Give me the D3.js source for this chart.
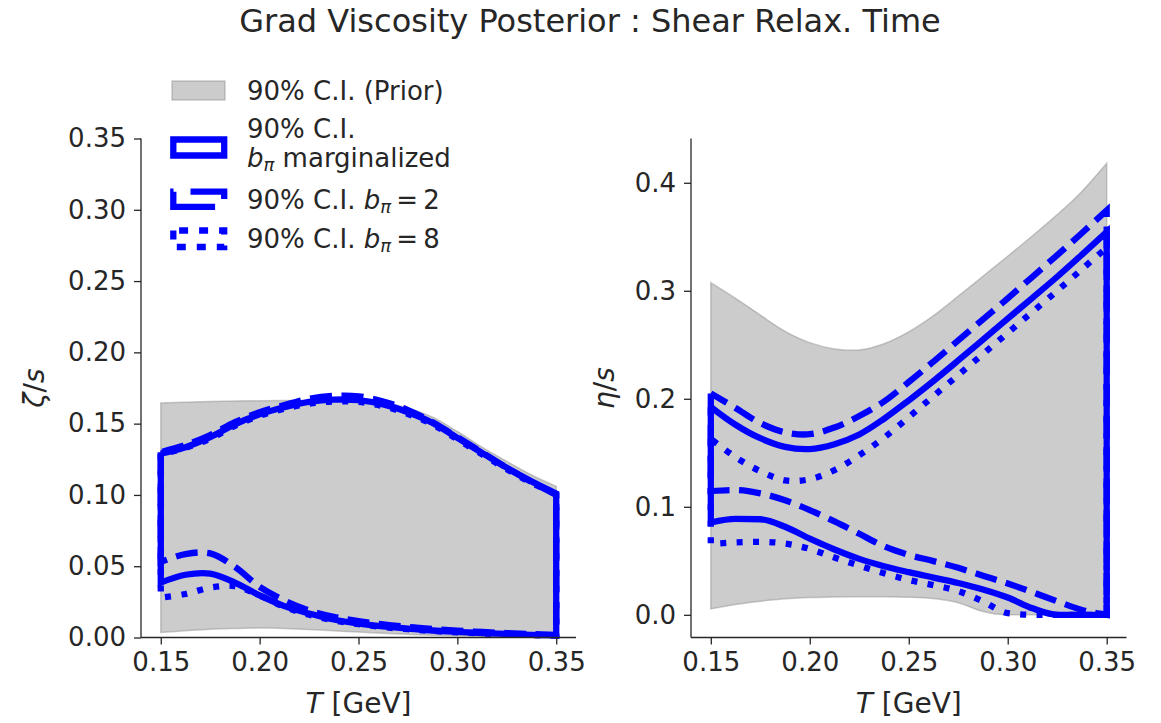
<!DOCTYPE html>
<html>
<head>
<meta charset="utf-8">
<script src="https://cdn.jsdelivr.net/npm/d3@7"></script>
<style>
  html, body { margin: 0; padding: 0; background: #ffffff; }
  svg { display: block; }
  text { font-family: "DejaVu Sans", sans-serif; fill: #262626; }
</style>
</head>
<body>
<svg id="chart" width="1161" height="723"></svg>
<script>
// Temperature grid (GeV)
const T = [0.15, 0.1625, 0.175, 0.1875, 0.2, 0.2125, 0.225, 0.2375, 0.25,
           0.2625, 0.275, 0.2875, 0.3, 0.3125, 0.325, 0.3375, 0.35];

// Bulk viscosity zeta/s — 90% credible intervals
const zetaPriorLow  = [0.0035, 0.0047, 0.0058, 0.0063, 0.0066, 0.0063, 0.0056, 0.0047, 0.0038,
                       0.0030, 0.0022, 0.0016, 0.0012, 0.0009, 0.0007, 0.0005, 0.0004];
const zetaPriorHigh = [0.1645, 0.1650, 0.1655, 0.1658, 0.1660, 0.1662, 0.1663, 0.1662, 0.1658,
                       0.1645, 0.1610, 0.1545, 0.1445, 0.1335, 0.1235, 0.1140, 0.1060];
const zetaMargLow   = [0.0385, 0.0440, 0.0448, 0.0385, 0.0295, 0.0220, 0.0168, 0.0126, 0.0098,
                       0.0078, 0.0062, 0.0049, 0.0039, 0.0031, 0.0025, 0.0019, 0.0015];
const zetaMargHigh  = [0.1290, 0.1335, 0.1405, 0.1495, 0.1565, 0.1615, 0.1652, 0.1668, 0.1665,
                       0.1635, 0.1580, 0.1505, 0.1400, 0.1295, 0.1190, 0.1095, 0.1010];
const zetaB2Low     = [0.0530, 0.0585, 0.0590, 0.0495, 0.0355, 0.0260, 0.0190, 0.0145, 0.0115,
                       0.0092, 0.0074, 0.0060, 0.0048, 0.0039, 0.0031, 0.0024, 0.0018];
const zetaB2High    = [0.1300, 0.1350, 0.1420, 0.1510, 0.1580, 0.1630, 0.1675, 0.1695, 0.1692,
                       0.1655, 0.1595, 0.1510, 0.1405, 0.1298, 0.1190, 0.1090, 0.1000];
const zetaB8Low     = [0.0280, 0.0305, 0.0350, 0.0360, 0.0295, 0.0215, 0.0160, 0.0120, 0.0093,
                       0.0073, 0.0058, 0.0046, 0.0036, 0.0028, 0.0022, 0.0017, 0.0013];
const zetaB8High    = [0.1285, 0.1330, 0.1395, 0.1485, 0.1555, 0.1605, 0.1640, 0.1655, 0.1652,
                       0.1622, 0.1568, 0.1495, 0.1390, 0.1285, 0.1180, 0.1085, 0.1005];

// Shear viscosity eta/s — 90% credible intervals
const etaPriorLow   = [0.0055, 0.0095, 0.0125, 0.0148, 0.0160, 0.0166, 0.0168, 0.0167, 0.0163,
                       0.0150, 0.0112, 0.0030, 0.0000, 0.0000, 0.0000, 0.0000, 0.0000];
const etaPriorHigh  = [0.3075, 0.2930, 0.2775, 0.2625, 0.2520, 0.2462, 0.2452, 0.2510, 0.2620,
                       0.2770, 0.2950, 0.3135, 0.3320, 0.3510, 0.3705, 0.3920, 0.4180];
const etaMargLow    = [0.0855, 0.0888, 0.0885, 0.0815, 0.0705, 0.0605, 0.0518, 0.0450, 0.0395,
                       0.0345, 0.0295, 0.0235, 0.0160, 0.0060, 0.0000, 0.0000, 0.0000];
const etaMargHigh   = [0.1925, 0.1760, 0.1635, 0.1555, 0.1535, 0.1580, 0.1670, 0.1815, 0.1985,
                       0.2165, 0.2355, 0.2548, 0.2742, 0.2935, 0.3130, 0.3335, 0.3545];
const etaB2Low      = [0.1145, 0.1155, 0.1125, 0.1060, 0.0970, 0.0865, 0.0750, 0.0635, 0.0555,
                       0.0497, 0.0435, 0.0362, 0.0290, 0.0210, 0.0125, 0.0045, 0.0000];
const etaB2High     = [0.2050, 0.1915, 0.1775, 0.1690, 0.1672, 0.1735, 0.1840, 0.1975, 0.2155,
                       0.2345, 0.2540, 0.2735, 0.2930, 0.3130, 0.3330, 0.3535, 0.3745];
const etaB8Low      = [0.0655, 0.0670, 0.0676, 0.0660, 0.0610, 0.0530, 0.0455, 0.0385, 0.0322,
                       0.0275, 0.0220, 0.0125, 0.0015, 0.0000, 0.0000, 0.0000, 0.0000];
const etaB8High     = [0.1630, 0.1460, 0.1330, 0.1245, 0.1255, 0.1340, 0.1478, 0.1640, 0.1830,
                       0.2025, 0.2220, 0.2415, 0.2610, 0.2805, 0.3000, 0.3200, 0.3400];

// Tick values
const xTicks = [0.15, 0.20, 0.25, 0.30, 0.35];
const zetaTicks = [0.00, 0.05, 0.10, 0.15, 0.20, 0.25, 0.30, 0.35];
const etaTicks = [0.0, 0.1, 0.2, 0.3, 0.4];

const BLUE = "#0000ff";
const LW = 6.3;
const DASHED = "22 9.5";
const DOTTED = "6 10.4";
const INK = "#262626";
const SMOOTH = d3.curveCatmullRom.alpha(0.5);
// bounds that run flat along zero need an interpolation without overshoot
const NO_OVERSHOOT = d3.curveMonotoneX;

const svg = d3.select("#chart");

svg.append("text")
  .attr("x", 590).attr("y", 32)
  .attr("text-anchor", "middle")
  .attr("font-size", 32)
  .text("Grad Viscosity Posterior : Shear Relax. Time");

function band(lo, hi) {
  return T.map((t, i) => ({ t, lo: lo[i], hi: hi[i] }));
}

// Path pieces for the lower bound (left to right) and upper bound (right to left)
function bounds(data, x, y, lowCurve) {
  const lineLo = d3.line().x(d => x(d.t)).y(d => y(d.v)).curve(lowCurve);
  const lineHi = d3.line().x(d => x(d.t)).y(d => y(d.v)).curve(SMOOTH);
  const lower = lineLo(data.map(d => ({ t: d.t, v: d.lo })));
  const upper = lineHi(data.slice().reverse().map(d => ({ t: d.t, v: d.hi })));
  return { lower, upper };
}

// Outline of a credible band: down the left edge, along the lower
// bound, up the right edge and back along the upper bound (left open).
function outline(data, x, y, lowCurve) {
  const { lower, upper } = bounds(data, x, y, lowCurve);
  const first = data[0];
  return `M${x(first.t)},${y(first.hi)}` + lower.replace(/^M/, "L") + upper.replace(/^M/, "L");
}

function panel(opts) {
  const { left, right, top, bottom, yDomain, yTicks, yFmt, yLabel, bands, lowCurve } = opts;
  const x = d3.scaleLinear().domain([0.14, 0.36]).range([left, right]);
  const y = d3.scaleLinear().domain(yDomain).range([bottom, top]);
  const g = svg.append("g");

  // prior band
  const pb = bounds(bands.prior, x, y, lowCurve);
  g.append("path").attr("d", pb.lower + pb.upper.replace(/^M/, "L") + "Z")
    .attr("fill", "#808080").attr("fill-opacity", 0.4)
    .attr("stroke", "#808080").attr("stroke-opacity", 0.4).attr("stroke-width", 1.5);

  // posterior bands
  [["marg", null], ["b2", DASHED], ["b8", DOTTED]].forEach(([k, dash]) => {
    g.append("path").attr("d", outline(bands[k], x, y, lowCurve))
      .attr("fill", "none").attr("stroke", BLUE).attr("stroke-width", LW)
      .attr("stroke-linejoin", "miter").attr("stroke-miterlimit", 10)
      .attr("stroke-dasharray", dash);
  });

  // axes
  const xAxis = d3.axisBottom(x).tickValues(xTicks).tickFormat(d3.format(".2f"))
    .tickSizeOuter(0).tickSizeInner(7).tickPadding(8);
  const yAxis = d3.axisLeft(y).tickValues(yTicks).tickFormat(d3.format(yFmt))
    .tickSizeOuter(0).tickSizeInner(7).tickPadding(8);
  const gx = g.append("g").attr("transform", `translate(0,${bottom})`).call(xAxis);
  const gy = g.append("g").attr("transform", `translate(${left},0)`).call(yAxis);
  [gx, gy].forEach(a => {
    a.select(".domain").attr("stroke", INK).attr("stroke-width", 1.3);
    a.selectAll(".tick line").attr("stroke", INK).attr("stroke-width", 1.3);
    a.selectAll(".tick text").attr("font-size", 26).attr("fill", INK)
      .attr("font-family", "DejaVu Sans, sans-serif");
  });
  gx.select(".domain").attr("d", `M${left},0H${right}`);
  gy.select(".domain").attr("d", `M0,${bottom}V${top}`);

  // x label
  const xl = svg.append("text").attr("x", (left + right) / 2).attr("y", 713)
    .attr("text-anchor", "middle").attr("font-size", 28);
  xl.append("tspan").attr("font-style", "italic").text("T");
  xl.append("tspan").text(" [GeV]");

  // y label
  const yl = svg.append("text")
    .attr("transform", `translate(${opts.yLabelX},${(top + bottom) / 2}) rotate(-90)`)
    .attr("text-anchor", "middle").attr("font-size", 28);
  yl.append("tspan").attr("font-style", "italic").text(yLabel);
  yl.append("tspan").text("/");
  yl.append("tspan").attr("font-style", "italic").text("s");
}

panel({
  left: 141, right: 576, top: 138.5, bottom: 637.5,
  yDomain: [0, 0.35], yTicks: zetaTicks, yFmt: ".2f", yLabel: "ζ", yLabelX: 44,
  lowCurve: SMOOTH,
  bands: {
    prior: band(zetaPriorLow, zetaPriorHigh),
    marg: band(zetaMargLow, zetaMargHigh),
    b2: band(zetaB2Low, zetaB2High),
    b8: band(zetaB8Low, zetaB8High)
  }
});

panel({
  left: 691, right: 1126.5, top: 138.5, bottom: 637.5,
  yDomain: [-0.021, 0.441], yTicks: etaTicks, yFmt: ".1f", yLabel: "η", yLabelX: 614,
  lowCurve: NO_OVERSHOOT,
  bands: {
    prior: band(etaPriorLow, etaPriorHigh),
    marg: band(etaMargLow, etaMargHigh),
    b2: band(etaB2Low, etaB2High),
    b8: band(etaB8Low, etaB8High)
  }
});

// Legend
const lg = svg.append("g");
lg.append("rect").attr("x", 172).attr("y", 81).attr("width", 53).attr("height", 19)
  .attr("fill", "#808080").attr("fill-opacity", 0.4)
  .attr("stroke", "#808080").attr("stroke-opacity", 0.4).attr("stroke-width", 1.5);

function handle(y0, h, dash) {
  const x0 = 173.3, x1 = 224.2, y1 = y0 + h;
  lg.append("path").attr("d", `M${x0},${y0}V${y1}H${x1}V${y0}Z`)
    .attr("fill", "none").attr("stroke", BLUE).attr("stroke-width", LW)
    .attr("stroke-linejoin", "miter").attr("stroke-dasharray", dash);
}
handle(139.5, 16, null);
handle(191.7, 15.2, "57 17 41 17");
handle(230.5, 16.5, "9 11");

function legendText(y) {
  return lg.append("text").attr("x", 247).attr("y", y).attr("font-size", 26);
}
legendText(99.5).text("90% C.I. (Prior)");
legendText(137.5).text("90% C.I.");
{
  const t = legendText(167);
  t.append("tspan").attr("font-style", "italic").text("b");
  t.append("tspan").attr("font-style", "italic").attr("font-size", 18).attr("dy", 4).text("π");
  t.append("tspan").attr("dy", -4).text(" marginalized");
}
[[209, "2"], [247.5, "8"]].forEach(([yy, n]) => {
  const t = legendText(yy);
  t.append("tspan").text("90% C.I. ");
  t.append("tspan").attr("font-style", "italic").text("b");
  t.append("tspan").attr("font-style", "italic").attr("font-size", 18).attr("dy", 4).text("π");
  t.append("tspan").attr("dy", -4).text("\u2009=\u2009" + n);
});
</script>
</body>
</html>
